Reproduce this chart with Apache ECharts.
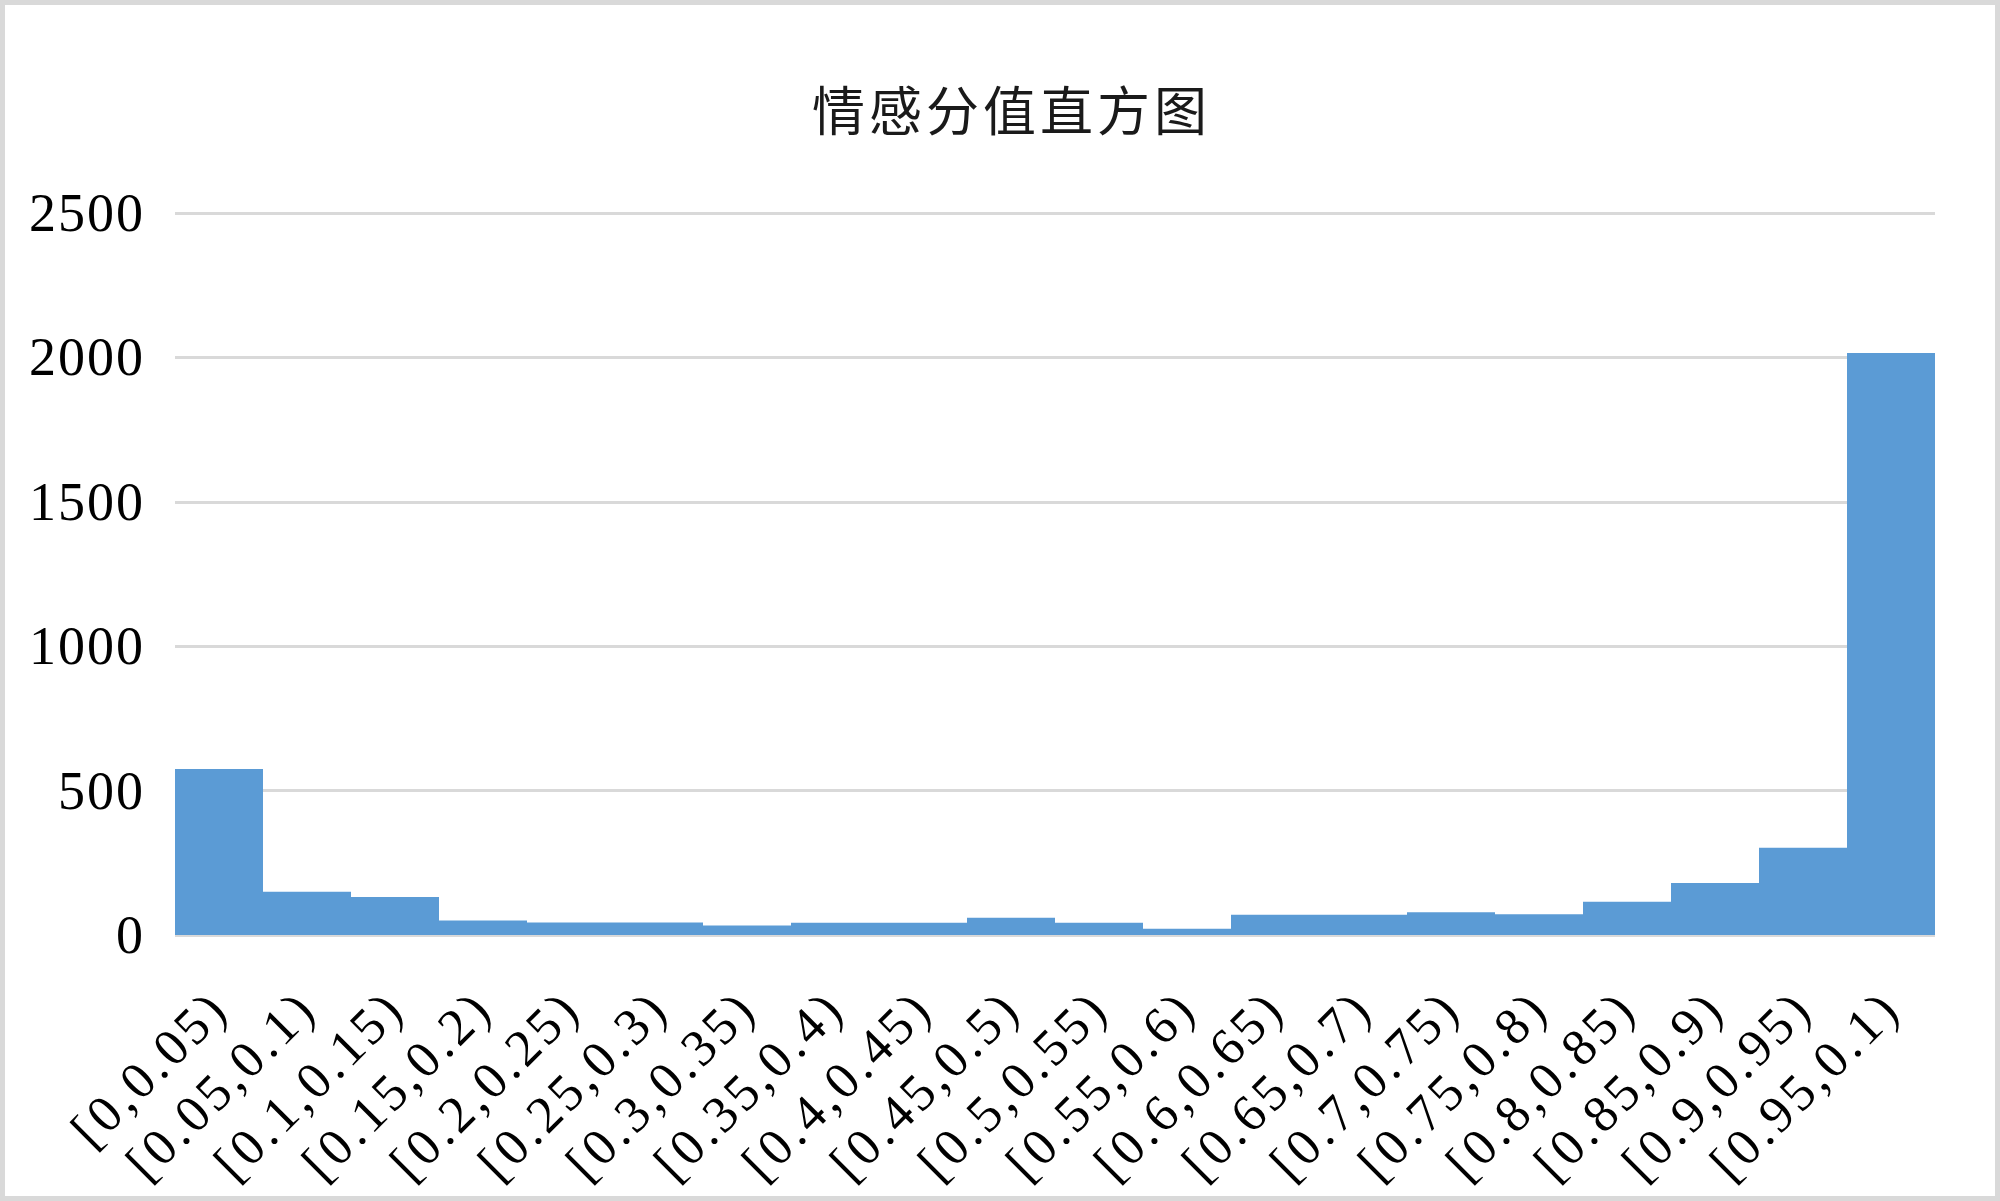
<!DOCTYPE html>
<html>
<head>
<meta charset="utf-8">
<script src="https://cdn.jsdelivr.net/npm/echarts@6/dist/echarts.min.js"></script>
<style>
html,body{margin:0;padding:0;background:#fff;}
#wrap{position:relative;width:2000px;height:1201px;}
#chart{position:absolute;left:0;top:0;width:2000px;height:1201px;}
#chart svg text{letter-spacing:4px;}
#chart svg text[style*="54px"]{letter-spacing:2px;}
#frame{position:absolute;left:0;top:0;width:2000px;height:1201px;box-sizing:border-box;border:5px solid #d9d9d9;pointer-events:none;}
</style>
</head>
<body>
<div id="wrap"><div id="chart"></div><div id="frame"></div></div>
<script>
const titleText = '情感分值直方图';
const categories = ['[0,0.05)','[0.05,0.1)','[0.1,0.15)','[0.15,0.2)','[0.2,0.25)','[0.25,0.3)','[0.3,0.35)','[0.35,0.4)','[0.4,0.45)','[0.45,0.5)','[0.5,0.55)','[0.55,0.6)','[0.6,0.65)','[0.65,0.7)','[0.7,0.75)','[0.75,0.8)','[0.8,0.85)','[0.85,0.9)','[0.9,0.95)','[0.95,0.1)'];
const counts = [575, 150, 132, 50, 43, 43, 33, 42, 42, 60, 42, 22, 70, 70, 79, 72, 115, 180, 302, 2015];
const yTicks = { min: 0, max: 2500, interval: 500 };

const chart = echarts.init(document.getElementById('chart'), null, { renderer: 'svg' });
chart.setOption({
  backgroundColor: '#ffffff',
  animation: false,
  title: {
    text: titleText,
    left: 812,
    top: 76,
    padding: [5, 0, 5, 0],
    textStyle: { fontFamily: 'Noto Sans CJK SC', fontSize: 53, fontWeight: 'normal', color: '#1a1a1a' }
  },
  grid: { left: 175, right: 65, top: 213, bottom: 266, containLabel: false },
  xAxis: {
    type: 'category',
    data: categories,
    axisLine: { show: false },
    axisTick: { show: false },
    axisLabel: {
      interval: 0,
      rotate: 45,
      margin: 64,
      fontFamily: 'Liberation Serif',
      fontSize: 52,
      color: '#000'
    }
  },
  yAxis: {
    type: 'value',
    min: yTicks.min,
    max: yTicks.max,
    interval: yTicks.interval,
    axisLine: { show: false },
    axisTick: { show: false },
    axisLabel: { margin: 30, fontFamily: 'Liberation Serif', fontSize: 54, color: '#000', formatter: function (v) { return String(v); } },
    splitLine: { lineStyle: { color: '#d9d9d9', width: 3 } }
  },
  series: [{
    type: 'bar',
    data: counts,
    barCategoryGap: '0%',
    itemStyle: { color: '#5b9bd5' }
  }]
});
</script>
</body>
</html>
